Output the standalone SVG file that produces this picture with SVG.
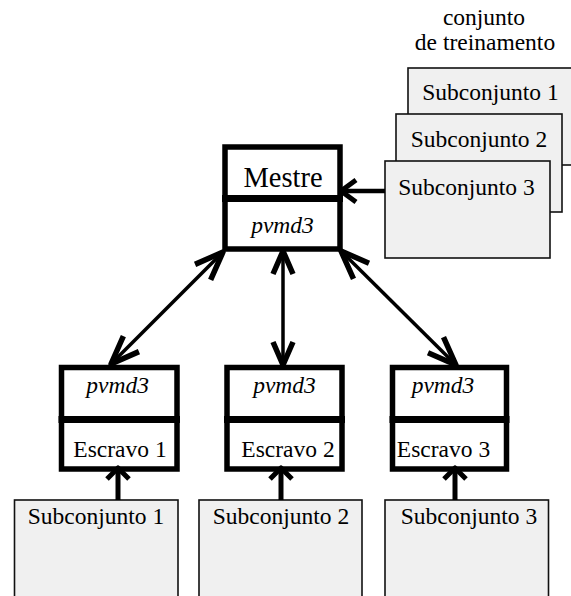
<svg xmlns="http://www.w3.org/2000/svg" width="571" height="596" viewBox="0 0 571 596" font-family="'Liberation Serif', 'Times New Roman', Times, 'DejaVu Serif', serif">
<style>
  text { font-family: 'Liberation Serif', 'Times New Roman', Times, 'DejaVu Serif', serif; font-size: 23.5px; fill: #000; text-anchor: middle; }
  .it { font-style: italic; }
  .big { font-size: 28.5px; }
  .set { fill: #f0f0f0; stroke: #111; stroke-width: 1.6; }
  .node { fill: #fff; stroke: #000; stroke-width: 5.5; }
  .div { stroke: #000; stroke-width: 7; }
  .shaft { stroke: #000; fill: none; }
</style>
<defs>
  <marker id="dbld" markerUnits="userSpaceOnUse" viewBox="-40 -20 50 40" refX="0" refY="0" markerWidth="50" markerHeight="40" orient="auto-start-reverse" overflow="visible">
    <path d="M-28.5,-11 L0,0 L-28.5,11" fill="none" stroke="#000" stroke-width="5.5" stroke-linejoin="round"/>
  </marker>
  <marker id="dblv" markerUnits="userSpaceOnUse" viewBox="-40 -20 50 40" refX="0" refY="0" markerWidth="50" markerHeight="40" orient="auto-start-reverse" overflow="visible">
    <path d="M-23,-10 L0,0 L-23,10" fill="none" stroke="#000" stroke-width="5.5" stroke-linejoin="round"/>
  </marker>
  <marker id="mst" markerUnits="userSpaceOnUse" viewBox="-40 -20 50 40" refX="0" refY="0" markerWidth="50" markerHeight="40" orient="auto" overflow="visible">
    <path d="M-15,-11 L0,0 L-15,11" fill="none" stroke="#000" stroke-width="5" stroke-linejoin="round"/>
  </marker>
  <marker id="sml" markerUnits="userSpaceOnUse" viewBox="-40 -20 50 40" refX="0" refY="0" markerWidth="50" markerHeight="40" orient="auto" overflow="visible">
    <path d="M-11,-11 L0,0 L-11,11" fill="none" stroke="#000" stroke-width="5" stroke-linejoin="round"/>
  </marker>
</defs>

<g id="training-set">
  <text x="484" y="25">conjunto</text>
  <text x="485" y="50">de treinamento</text>
  <rect class="set" x="408" y="68" width="170" height="97"/>
  <text x="490.5" y="100">Subconjunto 1</text>
  <rect class="set" x="396" y="114" width="166" height="98"/>
  <text x="479" y="147">Subconjunto 2</text>
  <rect class="set" x="385" y="161" width="165" height="97"/>
  <text x="466.5" y="195">Subconjunto 3</text>
</g>

<g id="mestre">
  <rect class="node" x="225" y="147" width="115" height="102"/>
  <line class="div" x1="222" y1="198.5" x2="343" y2="198.5"/>
  <text class="big" x="283" y="187">Mestre</text>
  <text class="it" x="282.5" y="233">pvmd3</text>
</g>

<g id="escravo1">
  <rect class="node" x="61.5" y="367.5" width="115.5" height="101.5"/>
  <line class="div" x1="58.5" y1="419.5" x2="180" y2="419.5"/>
  <text class="it" x="117.7" y="393">pvmd3</text>
  <text x="120" y="456.5">Escravo 1</text>
</g>
<g id="escravo2">
  <rect class="node" x="227" y="367.5" width="115" height="101.5"/>
  <line class="div" x1="224" y1="419.5" x2="345" y2="419.5"/>
  <text class="it" x="284.5" y="393">pvmd3</text>
  <text x="288" y="456.5">Escravo 2</text>
</g>
<g id="escravo3">
  <rect class="node" x="392.5" y="367.5" width="114" height="101.5"/>
  <line class="div" x1="389.5" y1="419.5" x2="509.5" y2="419.5"/>
  <text class="it" x="443" y="393">pvmd3</text>
  <text x="443.5" y="456.5">Escravo 3</text>
</g>

<g id="subconjunto1">
  <rect class="set" x="14.5" y="500" width="163.5" height="110"/>
  <text x="96" y="523.5">Subconjunto 1</text>
</g>
<g id="subconjunto2">
  <rect class="set" x="199" y="500" width="163" height="110"/>
  <text x="281" y="523.5">Subconjunto 2</text>
</g>
<g id="subconjunto3">
  <rect class="set" x="385" y="500" width="163.5" height="110"/>
  <text x="469" y="523.5">Subconjunto 3</text>
</g>

<g id="connectors">
  <line class="shaft" x1="385" y1="191" x2="341" y2="191" stroke-width="4.5" marker-end="url(#mst)"/>
  <line class="shaft" x1="223" y1="252" x2="111" y2="364" stroke-width="3.5" marker-start="url(#dbld)" marker-end="url(#dbld)"/>
  <line class="shaft" x1="283" y1="251" x2="283" y2="365" stroke-width="3.5" marker-start="url(#dblv)" marker-end="url(#dblv)"/>
  <line class="shaft" x1="341" y1="251" x2="456" y2="365" stroke-width="3.5" marker-start="url(#dbld)" marker-end="url(#dbld)"/>
  <line class="shaft" x1="118" y1="500" x2="118" y2="468" stroke-width="5" marker-end="url(#sml)"/>
  <line class="shaft" x1="281" y1="500" x2="281" y2="468" stroke-width="5" marker-end="url(#sml)"/>
  <line class="shaft" x1="455" y1="500" x2="455" y2="468" stroke-width="5" marker-end="url(#sml)"/>
</g>
</svg>
